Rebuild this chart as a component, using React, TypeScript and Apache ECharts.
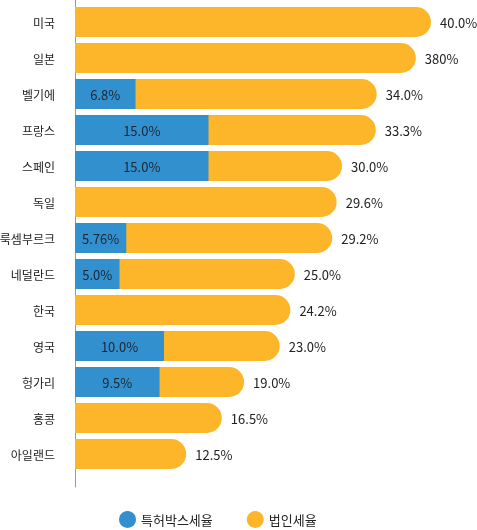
import { useEffect, useRef } from "react";
import * as echarts from "echarts";

const countries = ["미국", "일본", "벨기에", "프랑스", "스페인", "독일", "룩셈부르크", "네덜란드", "한국", "영국", "헝가리", "홍콩", "아일랜드"];
// bar lengths (labels keep the printed text)
const corporateRates = [40, 38.3, 33.9, 33.8, 30, 29.4, 28.9, 24.7, 24.2, 23, 19, 16.5, 12.5];
const corporateLabels = ["40.0%", "380%", "34.0%", "33.3%", "30.0%", "29.6%", "29.2%", "25.0%", "24.2%", "23.0%", "19.0%", "16.5%", "12.5%"];
const patentBoxRates = [null, null, 6.8, 15, 15, null, 5.76, 5, null, 10, 9.5, null, null];
const patentBoxLabels = ["", "", "6.8%", "15.0%", "15.0%", "", "5.76%", "5.0%", "", "10.0%", "9.5%", "", ""];

const FONT = "'Noto Sans CJK KR', 'Noto Sans', sans-serif";
const BLUE = "#3390cf";
const ORANGE = "#fdb52a";

export default function App() {
  const ref = useRef<HTMLDivElement | null>(null);

  useEffect(() => {
    if (!ref.current) return;
    const chart = echarts.init(ref.current, null, { renderer: "svg" });

    chart.setOption({
      animation: false,
      textStyle: { fontFamily: FONT },
      grid: [
        { left: 75, right: 46, top: 4, height: 468, outerBoundsMode: "none" },
        // second grid only carries the long axis line
        { left: 75, width: 10, top: 0, height: 487, outerBoundsMode: "none" },
      ],
      legend: {
        left: 114,
        top: 506,
        icon: "circle",
        itemWidth: 17,
        itemHeight: 17,
        itemGap: 34,
        textStyle: { fontSize: 13, color: "#222", fontFamily: FONT },
        data: ["특허박스세율", "법인세율"],
      },
      xAxis: [
        { type: "value", min: 0, max: 40, show: false },
        { type: "value", gridIndex: 1, show: false },
      ],
      yAxis: [
        {
          type: "category",
          data: countries,
          inverse: true,
          axisLine: { show: false },
          axisTick: { show: false },
          axisLabel: { margin: 20, fontSize: 12, color: "#222", fontFamily: FONT },
        },
        {
          type: "value",
          gridIndex: 1,
          min: 0,
          max: 1,
          axisLine: { show: true, lineStyle: { color: "#999", width: 1 } },
          axisTick: { show: false },
          axisLabel: { show: false },
          splitLine: { show: false },
        },
      ],
      series: [
        {
          name: "법인세율",
          type: "bar",
          data: corporateRates,
          barWidth: 30,
          barGap: "-100%",
          itemStyle: { color: ORANGE, borderRadius: [0, 15, 15, 0] },
          label: {
            show: true,
            position: "right",
            distance: 9,
            fontSize: 13,
            color: "#222",
            fontFamily: FONT,
            formatter: (p: any) => corporateLabels[p.dataIndex],
          },
        },
        {
          name: "특허박스세율",
          type: "bar",
          data: patentBoxRates,
          barWidth: 30,
          barGap: "-100%",
          z: 3,
          itemStyle: { color: BLUE },
          label: {
            show: true,
            position: "inside",
            fontSize: 13,
            color: "#1c2530",
            fontFamily: FONT,
            formatter: (p: any) => patentBoxLabels[p.dataIndex],
          },
        },
      ],
    });

    return () => chart.dispose();
  }, []);

  return <div ref={ref} style={{ position: "fixed", left: 0, top: 0, width: 477, height: 530 }} />;
}
